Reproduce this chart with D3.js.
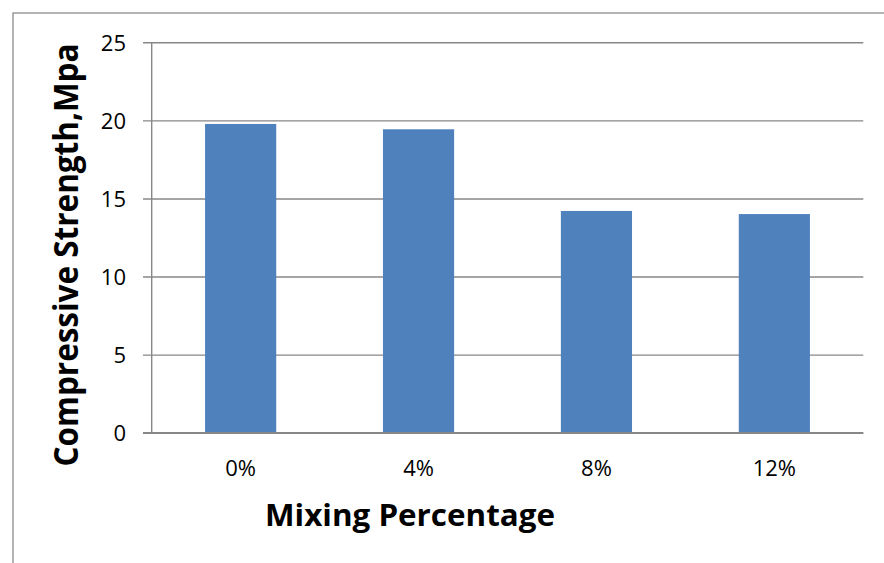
<!DOCTYPE html>
<html>
<head>
<meta charset="utf-8">
<script src="https://cdn.jsdelivr.net/npm/d3@7"></script>
<style>
  html, body { margin: 0; padding: 0; background: #fff; }
  svg { display: block; }
</style>
</head>
<body>
<svg id="chart" width="884" height="563"></svg>
<script>
const categories = ["0%", "4%", "8%", "12%"];
const strength = [19.77, 19.43, 14.2, 14.0];
const yTicks = [0, 5, 10, 15, 20, 25];
const xTitle = "Mixing Percentage";
const yTitle = "Compressive Strength,Mpa";

const svg = d3.select("#chart");
const W = 884, H = 563;
const plot = { left: 151.7, right: 863.3, top: 42.3, bottom: 432.7 };
const gridColor = "#878787";
const font = "'Open Sans', Calibri, sans-serif";

// outer chart border (extends beyond the right/bottom of the view)
svg.append("rect")
  .attr("x", 13).attr("y", 13)
  .attr("width", W + 20).attr("height", H + 20)
  .attr("fill", "#fff")
  .attr("stroke", "#8c8c8c").attr("stroke-width", 1.3);

const x = d3.scaleBand()
  .domain(categories)
  .range([plot.left, plot.right])
  .paddingInner(0.6)
  .paddingOuter(0.3);

const y = d3.scaleLinear()
  .domain([0, 25])
  .range([plot.bottom, plot.top]);

// gridlines + y ticks
const yAxis = d3.axisLeft(y)
  .tickValues(yTicks)
  .tickSize(plot.right - plot.left + 8.7)
  .tickFormat(d3.format("d"))
  .tickPadding(0);

const gy = svg.append("g")
  .attr("transform", `translate(${plot.right},0)`)
  .call(yAxis);
gy.select(".domain").remove();
gy.selectAll(".tick line")
  .attr("stroke", gridColor).attr("stroke-width", 1.4);
gy.selectAll(".tick text")
  .attr("x", 126 - plot.right)
  .attr("dy", "0.35em")
  .attr("text-anchor", "end")
  .attr("font-family", font)
  .attr("font-size", 22)
  .attr("fill", "#000");

// bars
svg.append("g")
  .selectAll("rect")
  .data(categories)
  .join("rect")
  .attr("x", d => x(d))
  .attr("width", x.bandwidth())
  .attr("y", (d, i) => y(strength[i]))
  .attr("height", (d, i) => y(0) - y(strength[i]))
  .attr("fill", "#4F81BD");

// y axis line
svg.append("line")
  .attr("x1", plot.left).attr("x2", plot.left)
  .attr("y1", plot.top).attr("y2", plot.bottom)
  .attr("stroke", gridColor).attr("stroke-width", 1.4);

// x axis
const xAxis = d3.axisBottom(x).tickSize(0).tickPadding(0);
const gx = svg.append("g")
  .attr("transform", `translate(0,${plot.bottom})`)
  .call(xAxis);
gx.select(".domain").remove();
gx.selectAll(".tick text")
  .attr("y", 476 - plot.bottom)
  .attr("dy", 0)
  .attr("font-family", font)
  .attr("font-size", 22)
  .attr("fill", "#000");
svg.append("line")
  .attr("x1", plot.left - 8.7).attr("x2", plot.right)
  .attr("y1", plot.bottom).attr("y2", plot.bottom)
  .attr("stroke", gridColor).attr("stroke-width", 1.4);

// axis titles
svg.append("text")
  .attr("x", 410).attr("y", 526)
  .attr("text-anchor", "middle")
  .attr("font-family", font)
  .attr("font-weight", "bold")
  .attr("font-size", 30.5)
  .attr("textLength", 290)
  .attr("lengthAdjust", "spacingAndGlyphs")
  .attr("fill", "#000")
  .text(xTitle);

svg.append("text")
  .attr("transform", "translate(77.5,255) rotate(-90)")
  .attr("text-anchor", "middle")
  .attr("font-family", font)
  .attr("font-weight", "bold")
  .attr("font-size", 34)
  .attr("textLength", 423)
  .attr("lengthAdjust", "spacingAndGlyphs")
  .attr("fill", "#000")
  .text(yTitle);
</script>
</body>
</html>
